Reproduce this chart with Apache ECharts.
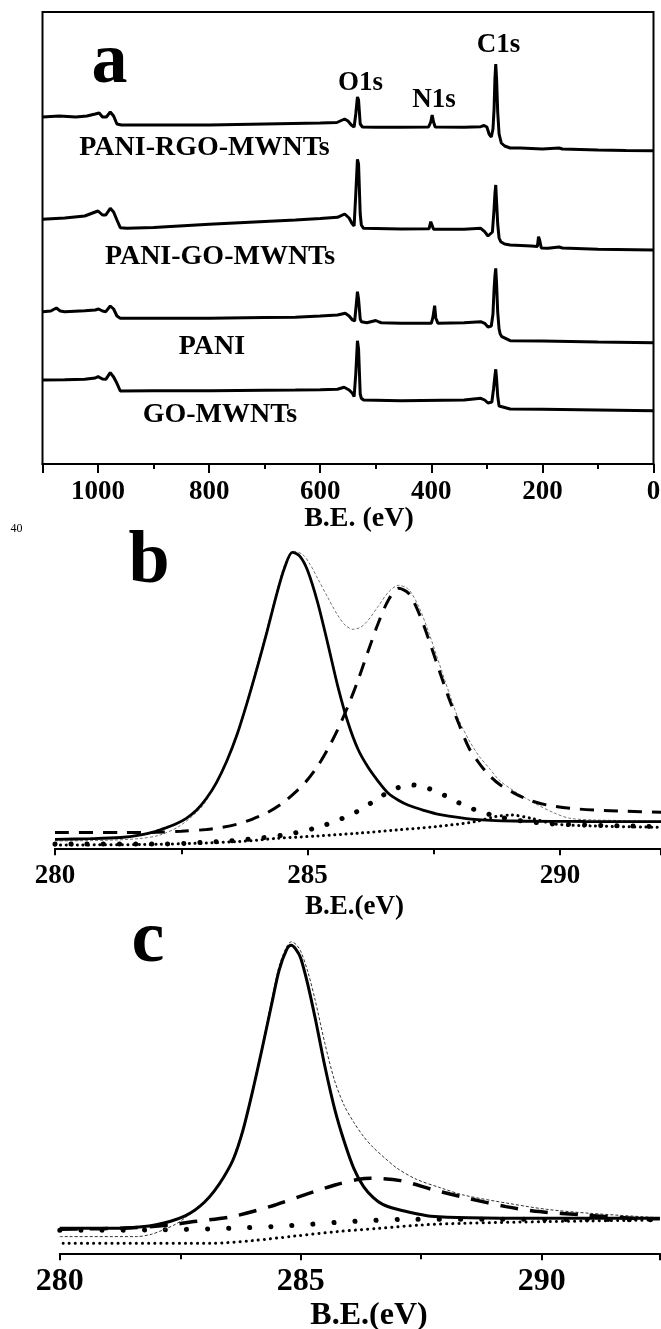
<!DOCTYPE html>
<html><head><meta charset="utf-8">
<script src="https://cdn.jsdelivr.net/npm/echarts@6/dist/echarts.min.js"></script>
<style>html,body{margin:0;padding:0;background:#fff}#c{width:661px;height:1329px}</style>
</head><body><div id="c"></div>
<script>
// ---------- Panel a: XPS survey spectra (B.E. eV, intensity a.u.) ----------
const surveyNames = ['PANI-RGO-MWNTs', 'PANI-GO-MWNTs', 'PANI', 'GO-MWNTs'];
const peakNames = ['O1s', 'N1s', 'C1s'];
const surveyRGO = [[1100,347],[1070,348],[1040,347],[1020,348],[1005,350],[998,351],[992,347],[985,347],[978,352],[972,348],[966,340],[958,339],[900,339],[800,339],[700,340],[600,341],[570,341.5],[556,345],[550,343],[544,339],[539,337],[536,350],[533,367],[531,364],[528,340],[524,337],[500,336.7],[455,336.7],[405,337],[401,342],[398.5,349],[396,342],[393,337],[341,336.7],[311,337.3],[305,338.5],[300,337],[296,330],[292,327],[289,335],[287,355],[285.5,385],[284,400],[282.5,385],[280.5,352],[278,330],[274,321],[268,318],[258,316],[240,316],[200,315],[170,316],[167,318],[164,315],[100,314],[50,313.5],[0,313.3]];
const surveyPANIGO = [[1100,244.7],[1060,246],[1024,248],[1005,252],[1000,253],[992,249],[986,249],[978,255.7],[972,252],[966,244],[960,236.3],[948,235.7],[900,236.5],[800,239.7],[700,242.5],[645,244],[600,245.5],[569,246.7],[556,250],[548,246],[543,240.7],[539,238],[536,270],[533,304.7],[531,300],[528,250],[526,239],[522,235.7],[455,235],[404,235.3],[401,242.3],[398,242],[396,234.7],[341,234.7],[311,235.7],[304,232.3],[298,228],[295,226.5],[290,232],[287,255],[285.5,270],[284,279],[282.5,262],[280.5,240],[278,226],[275,222.3],[268,220],[258,219],[220,218],[209,217.5],[207,227.3],[205,224],[202,216],[190,215.7],[170,217],[167,218],[164,216],[100,214.7],[0,214]];
const surveyPANI = [[1100,152.3],[1085,153],[1075,156],[1068,153],[1060,152.3],[1024,153.3],[1005,154],[999,155],[992,153],[986,152.3],[978,158],[972,155],[966,148],[960,145.7],[900,145.7],[800,145.7],[700,146.5],[645,146.7],[600,148],[569,149],[555,150.7],[548,148],[542,144],[538,143],[535,160],[533,172.3],[531,165],[528,145],[526,142.3],[516,141.3],[500,143.5],[497,144.7],[494,142],[490,141.3],[455,140.7],[400,140.7],[397,147],[394,158.3],[392,146],[388,140.7],[341,141.3],[311,142.3],[304,140.7],[298,137],[295,135.7],[292,138],[289,150],[287,175],[285.5,188],[284,195.7],[282.5,180],[280.5,152],[278,135],[276,130],[273,127.3],[258,123.3],[200,123],[100,122],[0,121.3]];
const surveyGO = [[1100,84],[1060,84.2],[1024,84.7],[1005,86],[1000,87.3],[992,85],[986,84.7],[978,91.3],[972,87],[966,80.7],[960,73],[900,73.2],[797,73.3],[700,73.8],[645,74],[600,74.3],[569,74.7],[557,76.7],[548,74],[542,70.7],[539,67.3],[536,90],[533,123.3],[531,115],[528,70],[526,65.7],[522,64],[455,63.3],[341,64],[311,65.7],[304,64],[298,61],[295,60],[291,62],[288,75],[285.5,88],[284,94.7],[282.5,85],[280.5,68],[278,58],[276,56.7],[258,55],[200,54.7],[100,54],[0,53.3]];

// ---------- Panel b: C1s fit ----------
const bMain = [[280,9],[280.7,9.6],[281.3,10.8],[281.7,13.5],[282.0,17],[282.2,20.5],[282.4,24.5],[282.6,30],[282.8,38],[283.0,50],[283.2,66],[283.4,87],[283.6,113],[283.8,145],[284.0,180],[284.2,217],[284.4,256],[284.55,281],[284.7,296],[284.85,292],[285.0,278],[285.2,246],[285.4,205],[285.6,162],[285.8,126],[286.0,99],[286.2,81],[286.4,67],[286.6,55],[286.8,48],[287.0,43],[287.3,38],[287.6,34],[288.3,29],[289.1,27.3],[290.5,26.8],[292,26.7]];
const bSecond = [[280,15.7],[281.3,15.7],[282.0,16],[282.5,17],[283.0,18.8],[283.3,20.8],[283.6,24],[283.9,29],[284.2,35.5],[284.5,45],[284.8,58],[285.0,68.5],[285.2,82],[285.4,99],[285.6,119],[285.8,142],[286.0,168],[286.2,197],[286.4,225],[286.6,248],[286.8,260],[287.0,255],[287.2,236],[287.4,209],[287.6,179],[287.8,150],[288.0,124],[288.2,100],[288.4,85],[288.6,73],[288.8,64],[289.1,55],[289.4,48],[289.74,43.3],[290.2,40],[290.68,38.3],[291.3,37],[292,36]];
const bEnvelope = [[280,7.3],[281.0,8],[281.66,9.7],[282.06,13],[282.45,21.7],[282.84,37.7],[283.0,48],[283.2,66],[283.4,88],[283.6,115],[283.8,147],[284.0,183],[284.2,220],[284.4,259],[284.55,284],[284.72,297],[284.9,294],[285.05,284],[285.2,270],[285.4,251],[285.6,233],[285.75,223],[285.9,219],[286.05,221],[286.2,228],[286.4,242],[286.6,256],[286.8,263],[287.0,259],[287.2,242],[287.4,216],[287.6,186],[287.8,156],[288.0,128],[288.2,108],[288.4,92],[288.6,80],[288.8,68],[289.1,57],[289.5,45],[289.9,35],[290.2,30],[290.7,28.3],[292,27.3]];
const bThird = [[280,4.3],[282.06,4.3],[283.23,6.7],[284.02,10],[284.72,15],[285.35,23.3],[285.98,36.7],[286.45,51.7],[286.76,60],[287.07,63.3],[287.39,60],[287.70,53.3],[288.02,45],[288.33,38.3],[288.72,32.3],[289.11,28.3],[289.90,24.3],[292,21.7]];
const bFourth = [[280,3.3],[282.06,4],[283.62,6.7],[284.41,10],[285.19,12.3],[285.98,15],[286.76,18.3],[287.54,21.7],[288.33,26.7],[288.72,31.7],[289.03,33.3],[289.43,30],[289.90,24.3],[290.68,22.3],[292,21]];

// ---------- Panel c: C1s fit ----------
const cMain = [[280,25],[281.2,25],[281.7,26.5],[282.0,28.5],[282.3,32],[282.6,37.5],[282.8,43],[283.0,51],[283.2,62],[283.4,76],[283.6,94],[283.8,123],[284.0,162],[284.2,205],[284.4,250],[284.55,283],[284.7,303],[284.8,308],[284.9,304],[285.0,295],[285.15,268],[285.3,235],[285.5,187],[285.7,145],[285.9,112],[286.1,85],[286.3,67],[286.5,56],[286.7,49],[287.0,44],[287.4,39.5],[287.7,37],[288.5,35.5],[290,35],[292.45,35]];
const cSecond = [[280,24],[281.5,25.5],[282.3,28.5],[282.78,31.7],[283.57,36.7],[284.36,46.7],[284.97,56.7],[285.71,68.3],[286.2,74],[286.46,75],[287.07,72.7],[287.77,63.3],[288.47,55],[289.26,46.7],[289.95,41.7],[290.87,38.3],[291.88,35],[292.45,34.5]];
const cEnvelope = [[280,16.7],[281.6,16.7],[281.9,19],[282.1,22.5],[282.4,29],[282.6,35.5],[282.8,44],[283.0,52],[283.2,62],[283.4,77],[283.6,96],[283.8,125],[284.0,164],[284.2,208],[284.4,254],[284.55,287],[284.7,306],[284.8,311.5],[284.9,309],[285.0,302],[285.15,281],[285.3,253],[285.5,210],[285.7,173],[285.9,148],[286.1,131],[286.3,117],[286.5,106],[286.75,95],[287.0,85],[287.4,74],[287.9,65.5],[288.4,58],[289.3,50],[290.1,44],[291.0,40],[292.45,35.5]];
const cThird = [[280,23],[281.82,23.3],[283.53,25],[284.79,27.7],[286.11,32],[287.33,34],[289,34],[292.45,33.5]];
const cFourth = [[280.07,10],[283.13,10],[284.0,12.7],[284.88,17.3],[285.76,21.7],[286.63,25],[287.5,28.3],[288.38,30],[290.13,31.7],[292.32,33.3]];

const FONT = "'Liberation Serif','Times New Roman',serif";
const chart = echarts.init(document.getElementById('c'), null, {renderer: 'canvas'});

function line(data, xi, style, z, smooth) {
  return {type: 'line', xAxisIndex: xi, yAxisIndex: xi, data: data, showSymbol: false, symbol: 'none',
    smooth: smooth, z: z, silent: true, animation: false,
    lineStyle: Object.assign({color: '#000', width: 2.5}, style)};
}
function xAx(gi, min, max, interval, fs, margin, tickLen, minorLen, inverse) {
  return {gridIndex: gi, type: 'value', min: min, max: max, interval: interval, inverse: !!inverse,
    axisLine: {show: true, onZero: false, lineStyle: {color: '#000', width: 2}},
    axisTick: {show: true, length: tickLen, lineStyle: {color: '#000', width: 2}},
    minorTick: {show: true, splitNumber: 2, length: minorLen, lineStyle: {color: '#000', width: 2}},
    splitLine: {show: false}, minorSplitLine: {show: false},
    axisLabel: {margin: margin, fontFamily: FONT, fontWeight: 'bold', fontSize: fs, color: '#000',
      showMinLabel: true, showMaxLabel: true,
      formatter: function (v) { return (Math.abs(v % interval) < 1e-6) ? String(Math.round(v)) : ''; }}};
}
function txt(t, x, y, size, weight) {
  return {type: 'text', x: x, y: y, silent: true,
    style: {text: t, fill: '#000', font: (weight || 'bold') + ' ' + size + 'px ' + FONT,
      align: 'center', verticalAlign: 'middle', textAlign: 'center', textVerticalAlign: 'middle'}};
}

const option = {
  backgroundColor: '#fff',
  animation: false,
  grid: [
    {left: 42.5, top: 12, width: 611, height: 452, show: true, borderColor: '#000', borderWidth: 2, backgroundColor: 'transparent', outerBoundsMode: 'none', containLabel: false},
    {left: 55, top: 538.3, width: 606, height: 310, show: false, outerBoundsMode: 'none', containLabel: false},
    {left: 59.8, top: 928.3, width: 600, height: 325, show: false, outerBoundsMode: 'none', containLabel: false}
  ],
  xAxis: [
    xAx(0, 0, 1100, 200, 27, 15, 9, 5, true),
    xAx(1, 280, 292, 5, 27, 14, 7, 6, false),
    xAx(2, 280, 292.45, 5, 32, 12, 7, 6, false)
  ],
  yAxis: [
    {gridIndex: 0, type: 'value', min: 0, max: 452, show: false},
    {gridIndex: 1, type: 'value', min: 0, max: 310, show: false},
    {gridIndex: 2, type: 'value', min: 0, max: 325, show: false}
  ],
  series: [
    line(surveyRGO, 0, {width: 3}, 5, false),
    line(surveyPANIGO, 0, {width: 3}, 5, false),
    line(surveyPANI, 0, {width: 3}, 5, false),
    line(surveyGO, 0, {width: 3}, 5, false),

    line(bFourth, 1, {width: 3, type: [0.1, 5.5], cap: 'round'}, 2, 0.3),
    line(bThird, 1, {width: 5, type: [0.1, 16], cap: 'round'}, 3, 0.3),
    line(bEnvelope, 1, {width: 1, color: '#777', type: [3, 2]}, 4, 0.3),
    line(bSecond, 1, {width: 3, type: [14, 10]}, 5, 0.3),
    line(bMain, 1, {width: 2.8}, 6, 0.3),

    line(cFourth, 2, {width: 3, type: [0.1, 6], cap: 'round'}, 2, 0.3),
    line(cThird, 2, {width: 5, type: [0.1, 21], cap: 'round'}, 3, 0.3),
    line(cEnvelope, 2, {width: 1, color: '#333', type: [3, 2]}, 4, 0.3),
    line(cSecond, 2, {width: 3.5, type: [18, 12]}, 5, 0.3),
    line(cMain, 2, {width: 3}, 6, 0.3)
  ],
  graphic: {elements: [
    txt('a', 109.5, 63.5, 72),
    txt(peakNames[0], 360.5, 83.5, 27),
    txt(peakNames[1], 434, 100.5, 27),
    txt(peakNames[2], 498.5, 45, 27),
    txt(surveyNames[0], 204.5, 147.5, 28),
    txt(surveyNames[1], 220, 256.7, 28),
    txt(surveyNames[2], 212, 347, 28),
    txt(surveyNames[3], 220, 415, 28),
    txt('B.E. (eV)', 359, 518.5, 28),
    txt('40', 16.5, 529, 12, 'normal'),
    txt('b', 149, 562.5, 74),
    txt('B.E.(eV)', 354.5, 906.8, 27),
    txt('c', 148, 941.8, 74),
    txt('B.E.(eV)', 369, 1316, 32)
  ]}
};
chart.setOption(option);
</script></body></html>
